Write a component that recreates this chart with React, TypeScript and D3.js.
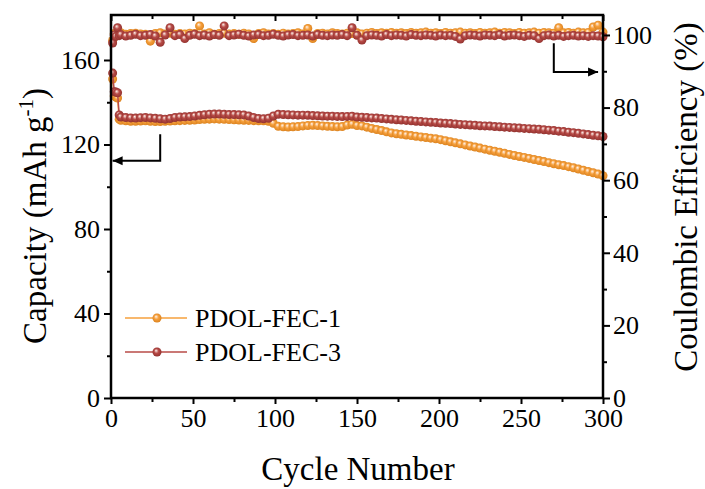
import React, { useEffect, useRef } from 'react';
import * as d3 from 'd3';

// cycle numbers sampled from the figure (first cycles, then every 3rd)
const cycles = [1, 2, 3, 4, 5, ...d3.range(6, 301, 3)];

// discharge capacity, mAh g-1
const capFec1 = [
  151.0, 143.0, 142.5, 142.0, 132.0, 131.5, 131.2, 131.0, 131.0, 131.1,
  131.2, 131.0, 130.9, 130.9, 131.0, 131.1, 131.2, 131.3, 131.4, 131.5,
  131.6, 131.8, 131.9, 132.0, 132.1, 132.0, 131.9, 131.8, 131.7, 131.6,
  131.5, 131.4, 131.3, 131.2, 131.2, 131.0, 130.0, 128.6, 128.4, 128.3,
  128.4, 128.5, 128.8, 129.0, 129.1, 129.0, 128.8, 128.6, 128.5, 128.4,
  128.5, 129.2, 129.6, 129.0, 128.8, 128.2, 127.6, 127.1, 126.6, 126.0,
  125.5, 125.1, 124.8, 124.5, 124.2, 123.9, 123.6, 123.3, 123.0, 122.7,
  122.3, 121.8, 121.3, 120.8, 120.3, 119.8, 119.3, 118.8, 118.3, 117.8,
  117.3, 116.8, 116.3, 115.8, 115.3, 114.8, 114.3, 113.9, 113.4, 112.9,
  112.4, 111.9, 111.4, 110.9, 110.4, 110.0, 109.5, 109.0, 108.4, 107.8,
  107.2, 106.6, 106.0, 105.2,
];
const capFec3 = [
  153.8, 145.0, 144.8, 144.5, 134.0, 133.0, 132.8, 132.6, 132.5, 132.7,
  132.8, 132.6, 132.4, 132.2, 132.0, 132.3, 132.8, 133.0, 133.1, 133.2,
  133.5, 133.8, 134.1, 134.3, 134.4, 134.4, 134.3, 134.2, 134.2, 134.1,
  134.0, 133.5, 132.8, 132.3, 132.2, 132.4, 133.5, 134.3, 134.2, 134.1,
  134.0, 133.9, 133.9, 133.8, 133.7, 133.6, 133.5, 133.4, 133.4, 133.3,
  133.2, 133.3, 133.4, 133.0, 132.9, 132.8, 132.6, 132.5, 132.3, 132.1,
  131.9, 131.7, 131.6, 131.4, 131.2, 131.0, 130.9, 130.7, 130.5, 130.4,
  130.2, 130.0, 129.9, 129.7, 129.5, 129.4, 129.2, 129.1, 128.9, 128.8,
  128.7, 128.5, 128.4, 128.2, 128.1, 127.9, 127.8, 127.6, 127.5, 127.3,
  127.2, 127.0, 126.8, 126.6, 126.3, 126.1, 125.8, 125.6, 125.3, 125.0,
  124.7, 124.4, 124.1, 123.8,
];

// coulombic efficiency, %
const ceFec1 = [
  98.5, 100.4, 100.2, 100.5, 100.3, 100.6, 100.2, 100.4, 100.5, 100.3,
  100.2, 98.3, 100.4, 100.6, 100.3, 100.5, 100.2, 100.4, 100.3, 100.5,
  100.4, 102.5, 100.3, 100.6, 100.2, 100.4, 100.5, 100.3, 100.4, 100.2,
  100.5, 100.3, 99.0, 100.4, 100.6, 100.3, 100.4, 100.2, 100.5, 100.3,
  100.4, 100.6, 100.3, 101.8, 99.0, 100.4, 100.5, 100.3, 100.6, 100.4,
  100.3, 100.5, 100.4, 100.6, 100.3, 100.5, 100.7, 100.4, 100.6, 100.5,
  100.7, 100.5, 100.6, 100.4, 100.7, 100.5, 100.6, 100.8, 100.5, 100.6,
  100.4, 100.7, 100.5, 100.6, 100.8, 100.5, 100.6, 100.4, 100.7, 100.5,
  100.6, 100.8, 100.5, 100.7, 100.6, 100.4, 100.7, 100.5, 100.6, 100.8,
  100.5, 100.7, 100.6, 100.5, 102.0, 100.6, 100.7, 100.5, 100.8, 100.6,
  100.7, 102.2, 102.7, 100.8,
];
const ceFec3 = [
  97.8, 100.0, 99.6, 102.0, 99.8, 100.1, 99.7, 99.9, 100.2, 99.8,
  99.9, 100.1, 99.7, 98.0, 100.0, 102.0, 99.8, 100.1, 99.0, 99.9,
  100.2, 99.8, 100.0, 99.7, 100.1, 99.9, 102.5, 99.8, 100.0, 100.2,
  99.9, 99.7, 100.0, 100.1, 99.8, 99.9, 100.2, 99.9, 99.7, 100.0,
  100.1, 99.8, 99.9, 100.0, 99.7, 100.1, 99.9, 99.8, 100.0, 99.9,
  100.1, 99.8, 102.0, 99.9, 98.6, 99.8, 100.0, 99.9, 99.7, 100.1,
  99.8, 100.0, 99.9, 99.7, 100.1, 99.9, 99.8, 100.0, 99.9, 99.7,
  100.0, 99.8, 99.9, 99.6, 98.9, 99.8, 100.0, 99.9, 99.7, 100.0,
  99.9, 99.8, 100.1, 99.7, 99.9, 100.0, 99.8, 99.6, 99.9, 99.8,
  99.0, 99.8, 100.0, 99.7, 99.9, 99.6, 99.8, 99.9, 99.7, 99.8,
  99.6, 99.8, 99.7, 99.5,
];

const seriesNames = ['PDOL-FEC-1', 'PDOL-FEC-3'];
const xTicks = [0, 50, 100, 150, 200, 250, 300];
const capTicks = [0, 40, 80, 120, 160];
const ceTicks = [0, 20, 40, 60, 80, 100];

const colors = ['#F6A03D', '#B84B47'];
const dark = ['#D9801C', '#8E2F2C'];
const FONT = '"Liberation Serif", "Times New Roman", serif';

export default function App() {
  const ref = useRef<SVGSVGElement>(null);

  useEffect(() => {
    const svg = d3.select(ref.current);
    svg.selectAll('*').remove();

    const left = 111, right = 603, top = 15, bottom = 398;

    const x = d3.scaleLinear().domain([0, 300]).range([left, right]);
    const yCap = d3.scaleLinear().domain([0, 181.3]).range([bottom, top]);
    const yCe = d3.scaleLinear().domain([0, 105.5]).range([bottom, top]);

    const defs = svg.append('defs');
    colors.forEach((c, i) => {
      const g = defs.append('radialGradient')
        .attr('id', 'ball' + i)
        .attr('cx', '50%').attr('cy', '50%').attr('r', '55%')
        .attr('fx', '38%').attr('fy', '32%');
      g.append('stop').attr('offset', '0%').attr('stop-color', '#fff4ee');
      g.append('stop').attr('offset', '45%').attr('stop-color', c);
      g.append('stop').attr('offset', '100%').attr('stop-color', dark[i]);
    });

    const drawSeries = (vals: number[], y: d3.ScaleLinear<number, number>, i: number) => {
      const pts = cycles.map((c, k) => [c, vals[k]] as [number, number]);
      const line = d3.line<[number, number]>().x(d => x(d[0])).y(d => y(d[1]));
      svg.append('path')
        .datum(pts)
        .attr('fill', 'none')
        .attr('stroke', colors[i])
        .attr('stroke-width', 1.5)
        .attr('d', line);
      svg.append('g').selectAll('circle')
        .data(pts)
        .join('circle')
        .attr('cx', d => x(d[0]))
        .attr('cy', d => y(d[1]))
        .attr('r', 4.5)
        .attr('fill', `url(#ball${i})`);
    };

    drawSeries(ceFec1, yCe, 0);
    drawSeries(ceFec3, yCe, 1);
    drawSeries(capFec1, yCap, 0);
    drawSeries(capFec3, yCap, 1);

    const styleAxis = (g: d3.Selection<SVGGElement, unknown, null, undefined>) => {
      g.select('.domain').remove();
      g.selectAll('line').attr('stroke', '#000').attr('stroke-width', 2);
      g.selectAll('text').attr('font-family', FONT).attr('font-size', 26).attr('fill', '#000');
      g.attr('font-family', null).attr('font-size', null);
    };

    // bottom
    svg.append('g').attr('transform', `translate(0,${bottom})`)
      .call(d3.axisBottom(x).tickValues(xTicks).tickSize(6).tickPadding(5))
      .call(styleAxis);
    svg.append('g').attr('transform', `translate(0,${bottom})`)
      .call(d3.axisBottom(x).tickValues([25, 75, 125, 175, 225, 275]).tickSize(4).tickFormat(() => ''))
      .call(styleAxis);
    // top (inward)
    svg.append('g').attr('transform', `translate(0,${top})`)
      .call(d3.axisTop(x).tickValues(xTicks).tickSize(-6).tickFormat(() => ''))
      .call(styleAxis);
    svg.append('g').attr('transform', `translate(0,${top})`)
      .call(d3.axisTop(x).tickValues([25, 75, 125, 175, 225, 275]).tickSize(-4).tickFormat(() => ''))
      .call(styleAxis);
    // left
    svg.append('g').attr('transform', `translate(${left},0)`)
      .call(d3.axisLeft(yCap).tickValues(capTicks).tickSize(7).tickPadding(4))
      .call(styleAxis);
    svg.append('g').attr('transform', `translate(${left},0)`)
      .call(d3.axisLeft(yCap).tickValues([20, 60, 100, 140]).tickSize(4).tickFormat(() => ''))
      .call(styleAxis);
    // right
    svg.append('g').attr('transform', `translate(${right},0)`)
      .call(d3.axisRight(yCe).tickValues(ceTicks).tickSize(7).tickPadding(3))
      .call(styleAxis);
    svg.append('g').attr('transform', `translate(${right},0)`)
      .call(d3.axisRight(yCe).tickValues([10, 30, 50, 70, 90]).tickSize(4).tickFormat(() => ''))
      .call(styleAxis);

    // frame
    svg.append('rect')
      .attr('x', left).attr('y', top)
      .attr('width', right - left).attr('height', bottom - top)
      .attr('fill', 'none').attr('stroke', '#000').attr('stroke-width', 2.5);

    // axis titles
    svg.append('text')
      .attr('x', (left + right) / 2 + 1).attr('y', 480)
      .attr('text-anchor', 'middle')
      .attr('font-family', FONT).attr('font-size', 33)
      .text('Cycle Number');

    const lt = svg.append('text')
      .attr('transform', 'translate(46,216) rotate(-90)')
      .attr('text-anchor', 'middle')
      .attr('font-family', FONT).attr('font-size', 33);
    lt.append('tspan').text('Capacity (mAh g');
    lt.append('tspan').attr('font-size', 21).attr('dy', -13).text('-1');
    lt.append('tspan').attr('dy', 13).text(')');

    svg.append('text')
      .attr('transform', 'translate(697,197) rotate(-90)')
      .attr('text-anchor', 'middle')
      .attr('font-family', FONT).attr('font-size', 33)
      .text('Coulombic Efficiency (%)');

    // direction arrows
    const arrow = (pts: [number, number][]) => {
      svg.append('path')
        .attr('d', d3.line()(pts))
        .attr('fill', 'none').attr('stroke', '#000').attr('stroke-width', 2);
      const [a, b] = pts.slice(-2);
      const dir = Math.sign(b[0] - a[0]);
      svg.append('path')
        .attr('d', `M${b[0]},${b[1]} l${-dir * 10},-4.5 l0,9 Z`)
        .attr('fill', '#000');
    };
    arrow([[x(30), yCap(124.8)], [x(30), yCap(112.3)], [x(1), yCap(112.3)]]);
    arrow([[x(270), yCe(97.7)], [x(270), yCe(89.8)], [x(297), yCe(89.8)]]);

    // legend
    seriesNames.forEach((name, i) => {
      const ly = 318 + i * 34;
      svg.append('line')
        .attr('x1', 125).attr('x2', 187).attr('y1', ly).attr('y2', ly)
        .attr('stroke', colors[i]).attr('stroke-width', 1.5);
      svg.append('circle')
        .attr('cx', 157).attr('cy', ly).attr('r', 4.5)
        .attr('fill', `url(#ball${i})`);
      svg.append('text')
        .attr('x', 195).attr('y', ly + 9)
        .attr('font-family', FONT).attr('font-size', 26)
        .text(name);
    });
  }, []);

  return (
    <svg
      ref={ref}
      width={705}
      height={489}
      style={{ position: 'absolute', left: 0, top: 0, background: '#fff' }}
    />
  );
}
